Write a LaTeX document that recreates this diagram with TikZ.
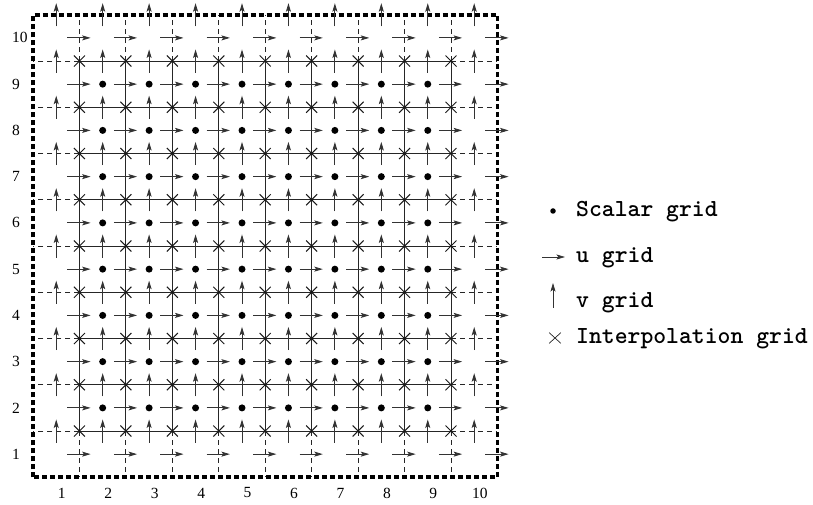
\documentclass[tikz,border=0pt]{standalone}
\usepackage{fontspec}
\setmainfont{Liberation Serif}
\usetikzlibrary{arrows.meta,shapes.misc}
\begin{document}
\begin{tikzpicture}[
  gline/.style={black!85, line width=0.95pt},
  dline/.style={black!85, line width=0.95pt, dash pattern=on 5pt off 4pt},
  borderline/.style={black, line width=3.6pt, dash pattern=on 5pt off 3pt},
  arr/.style={black!80, line width=0.9pt, -{Stealth[length=8.5pt,width=5pt,inset=1.8pt]}},
  xnode/.style={draw=black!90, line width=1pt, cross out, minimum size=10pt, inner sep=0pt},
  sdot/.style={circle, fill=black, inner sep=0pt, minimum size=7pt},
  lab/.style={font=\fontsize{15.5}{17}\selectfont, inner sep=0pt},
  legtext/.style={font=\ttfamily\bfseries\fontsize{24.5}{26}\selectfont, inner sep=0pt, anchor=base west},
]
\useasboundingbox (0,0) rectangle (813pt,505pt);
\begin{scope}[shift={(9.8pt,4.6pt)}, x=46.44pt, y=46.25pt]
  % dashed extensions of the interpolation grid
  \foreach \k in {1.5,2.5,...,9.5} {
    \draw[dline] (1.5,\k) -- (0.5,\k);
    \draw[dline] (9.5,\k) -- (10.5,\k);
    \draw[dline] (\k,1.5) -- (\k,0.5);
    \draw[dline] (\k,9.5) -- (\k,10.5);
  }
  % solid interpolation grid lines
  \foreach \k in {1.5,2.5,...,9.5} {
    \draw[gline] (1.5,\k) -- (9.5,\k);
    \draw[gline] (\k,1.5) -- (\k,9.5);
  }
  % domain border
  \draw[borderline] (0.5,0.5) rectangle (10.5,10.5);
  % u arrows
  \foreach \i in {1,...,10} \foreach \j in {1,...,10} {
    \draw[arr] ({\i+0.5-0.26},\j) -- ({\i+0.5+0.24},\j);
  }
  % v arrows
  \foreach \i in {1,...,10} \foreach \j in {1,...,10} {
    \draw[arr] (\i,{\j+0.5-0.25}) -- (\i,{\j+0.5+0.25});
  }
  % interpolation points
  \foreach \i in {1,...,9} \foreach \j in {1,...,9} {
    \node[xnode] (x\i-\j) at ({\i+0.5},{\j+0.5}) {};
  }
  % scalar points
  \foreach \i in {2,...,9} \foreach \j in {2,...,9} {
    \node[sdot] (s\i-\j) at (\i,\j) {};
  }
  % column labels
  \foreach \k in {1,...,10} {
    \node[lab, anchor=center] (cl\k) at ({\k+0.12},0.16) {\k};
  }
\end{scope}
\begin{scope}[shift={(0pt,4.6pt)}, y=46.25pt]
  \foreach \k in {1,...,10} {
    \node[lab, anchor=west] (rl\k) at (12pt,\k) {\k};
  }
\end{scope}
% legend
\node[sdot, minimum size=5.5pt] (ldot) at (553pt,294pt) {};
\node[legtext] (t1) at (576pt,288pt) {Scalar grid};
\coordinate (ua) at (542pt,248pt);
\coordinate (ub) at (565pt,248pt);
\draw[arr, line width=0.8pt] (ua) -- (ub);
\node[legtext] (t2) at (576pt,242pt) {u grid};
\coordinate (va) at (553pt,197pt);
\coordinate (vb) at (553pt,222pt);
\draw[arr, line width=0.8pt] (va) -- (vb);
\node[legtext] (t3) at (576pt,197pt) {v grid};
\node[draw=black!85, line width=0.7pt, cross out, minimum width=11pt, minimum height=10pt, inner sep=0pt] (lx) at (555pt,167pt) {};
\node[legtext] (t4) at (576pt,161pt) {Interpolation grid};
\end{tikzpicture}
\end{document}
